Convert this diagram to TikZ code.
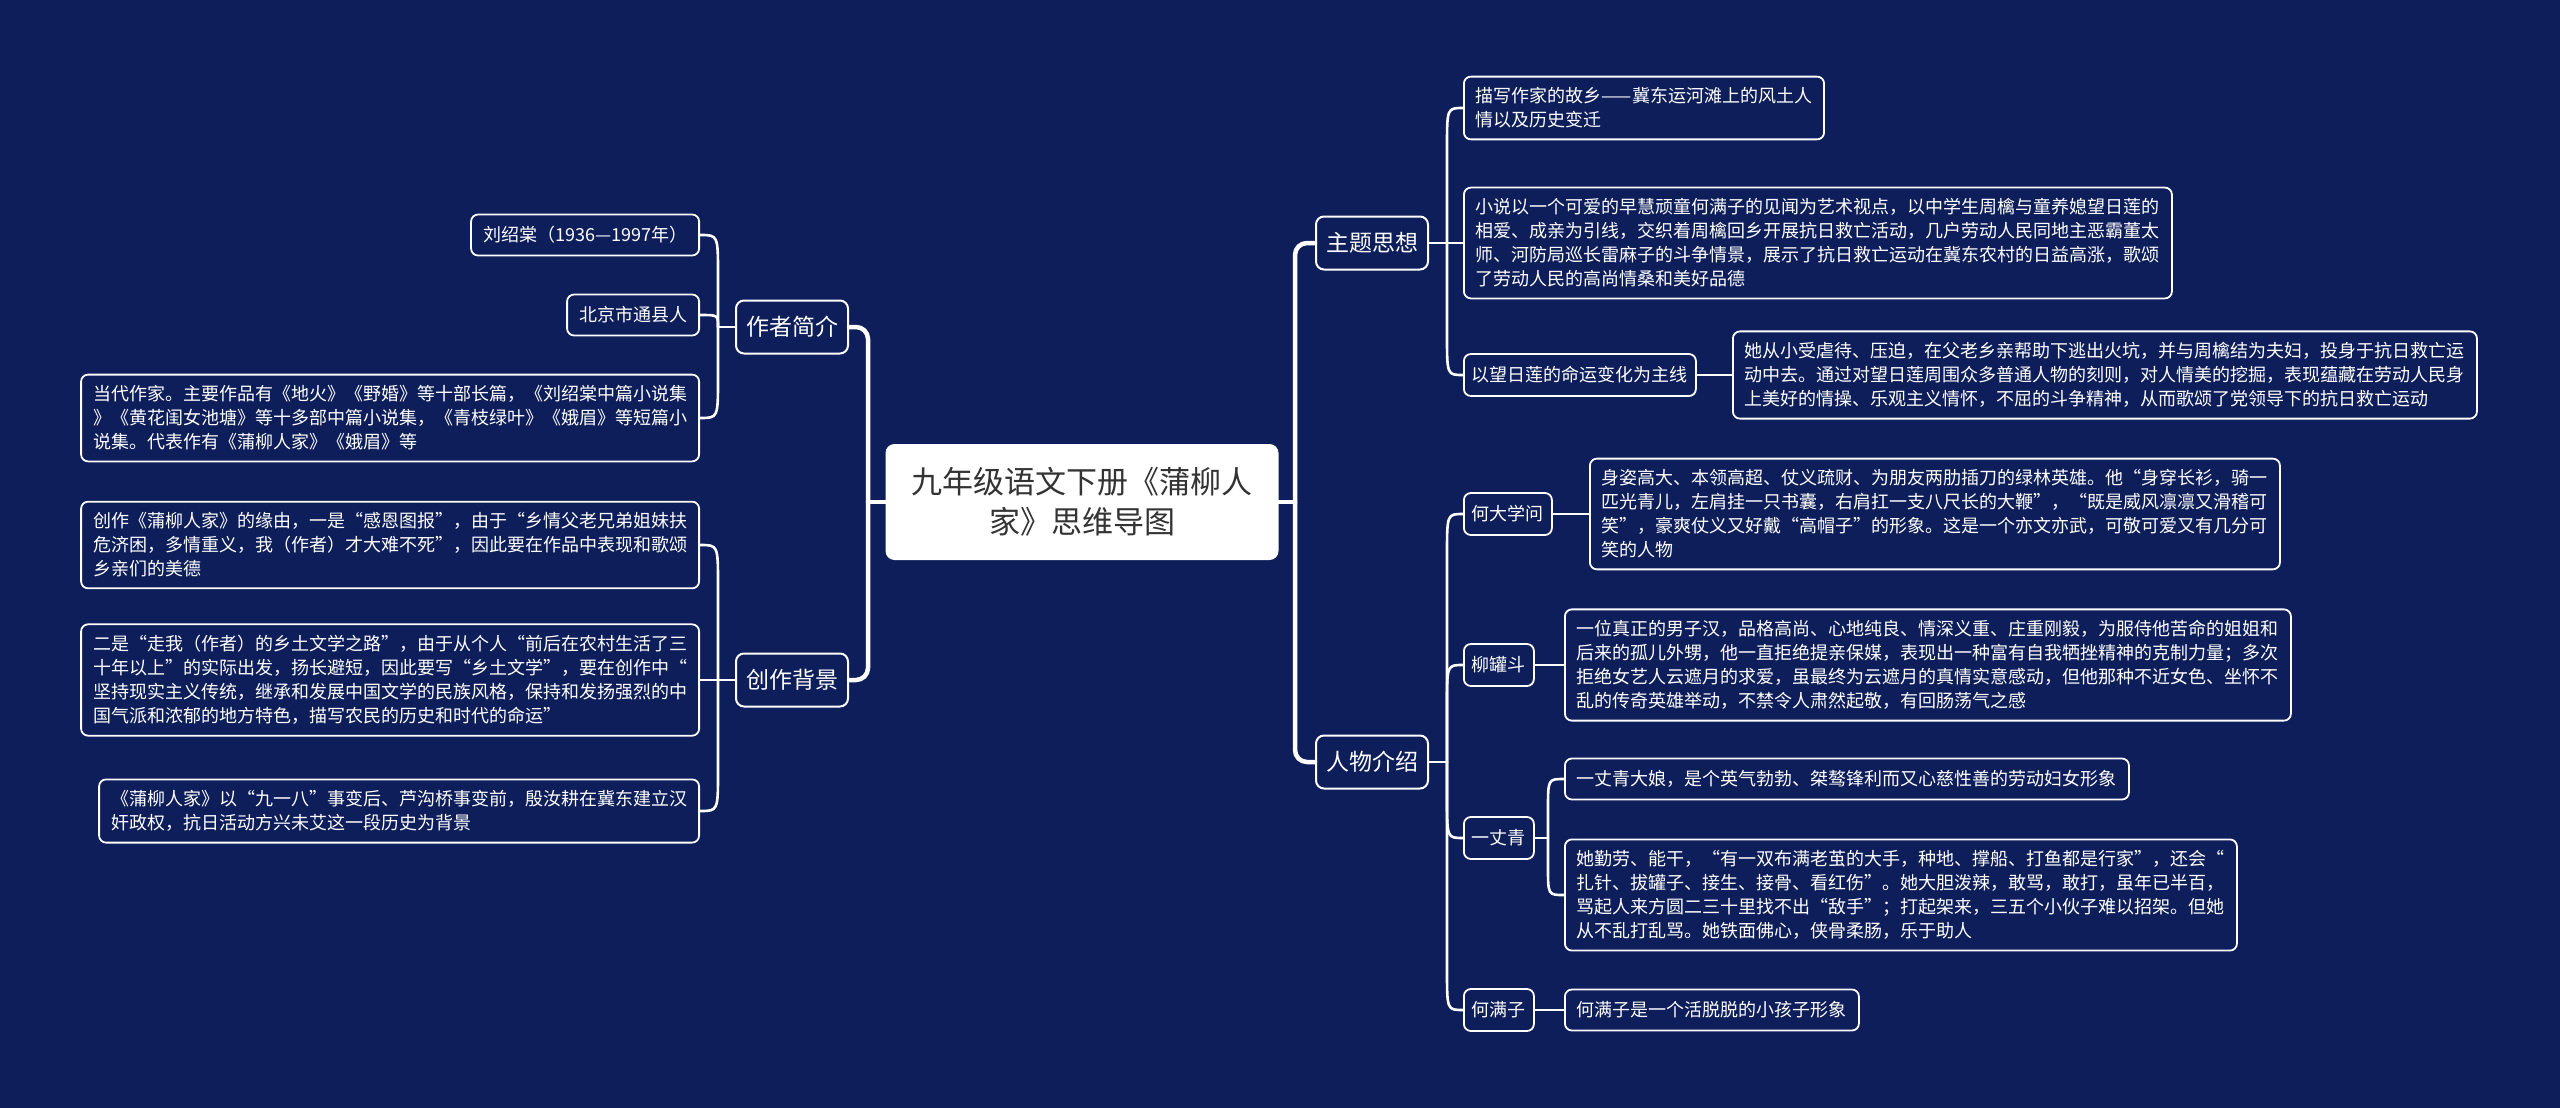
\documentclass[tikz,border=0pt]{standalone}
\usepackage{fontspec}
\setmainfont{Noto Sans CJK SC}
\definecolor{navy}{RGB}{13,30,90}

\begin{document}
\begin{tikzpicture}[x=1pt,y=-1pt,line cap=round,line join=round,
  trunk/.style={white,line width=4.5pt},
  branch/.style={white,line width=2.6pt},
  rootbox/.style={fill=white,rounded corners=9pt,text=black!80,font=\fontsize{31}{40}\selectfont,align=center,text width=363pt,minimum height=116pt,inner xsep=15pt},
  topicbox/.style={draw=white,line width=2pt,fill=navy,rounded corners=8pt,text=white,font=\fontsize{23}{28}\selectfont,inner xsep=10pt,minimum height=53pt},
  subbox/.style={draw=white,line width=1.8pt,fill=navy,rounded corners=7pt,text=white,font=\fontsize{18}{24}\selectfont,inner xsep=8pt,minimum height=42pt},
  leafbox/.style={draw=white,line width=1.8pt,fill=navy,rounded corners=7pt,text=white,font=\fontsize{18}{24}\selectfont,align=left,inner xsep=12pt,inner ysep=11pt,minimum height=41pt}]
\fill[navy] (0,0) rectangle (2560,1108);
\useasboundingbox (0,0) rectangle (2560,1108);

\node[rootbox] (root) at (1082,502) {九年级语文下册《蒲柳人\\家》思维导图};
\node[topicbox] (author) at (792,327) {作者简介};
\node[topicbox] (backg) at (792,680) {创作背景};
\node[topicbox] (theme) at (1372,243) {主题思想};
\node[topicbox] (people) at (1372,762) {人物介绍};

\node[leafbox,anchor=east] (a1) at (700,235) {刘绍棠（1936—1997年）};
\node[leafbox,anchor=east] (a2) at (700,315) {北京市通县人};
\node[leafbox,anchor=east] (a3) at (700,418) {当代作家。主要作品有《地火》《野婚》等十部长篇，《刘绍棠中篇小说集\\》《黄花闺女池塘》等十多部中篇小说集，《青枝绿叶》《娥眉》等短篇小\\说集。代表作有《蒲柳人家》《娥眉》等};
\node[leafbox,anchor=east] (b1) at (700,545) {创作《蒲柳人家》的缘由，一是“感恩图报”，由于“乡情父老兄弟姐妹扶\\危济困，多情重义，我（作者）才大难不死”，因此要在作品中表现和歌颂\\乡亲们的美德};
\node[leafbox,anchor=east] (b2) at (700,680) {二是“走我（作者）的乡土文学之路”，由于从个人“前后在农村生活了三\\十年以上”的实际出发，扬长避短，因此要写“乡土文学”，要在创作中“\\坚持现实主义传统，继承和发展中国文学的民族风格，保持和发扬强烈的中\\国气派和浓郁的地方特色，描写农民的历史和时代的命运”};
\node[leafbox,anchor=east] (b3) at (700,811) {《蒲柳人家》以“九一八”事变后、芦沟桥事变前，殷汝耕在冀东建立汉\\奸政权，抗日活动方兴未艾这一段历史为背景};

\node[leafbox,anchor=west] (t1) at (1463,108) {描写作家的故乡——冀东运河滩上的风土人\\情以及历史变迁};
\node[leafbox,anchor=west] (t2) at (1463,243) {小说以一个可爱的早慧顽童何满子的见闻为艺术视点，以中学生周檎与童养媳望日莲的\\相爱、成亲为引线，交织着周檎回乡开展抗日救亡活动，几户劳动人民同地主恶霸董太\\师、河防局巡长雷麻子的斗争情景，展示了抗日救亡运动在冀东农村的日益高涨，歌颂\\了劳动人民的高尚情桑和美好品德};
\node[subbox,anchor=west] (t3) at (1463,375) {以望日莲的命运变化为主线};
\node[leafbox,anchor=west] (t3a) at (1732,375) {她从小受虐待、压迫，在父老乡亲帮助下逃出火坑，并与周檎结为夫妇，投身于抗日救亡运\\动中去。通过对望日莲周围众多普通人物的刻则，对人情美的挖掘，表现蕴藏在劳动人民身\\上美好的情操、乐观主义情怀，不屈的斗争精神，从而歌颂了党领导下的抗日救亡运动};

\node[subbox,anchor=west] (p1) at (1463,514) {何大学问};
\node[leafbox,anchor=west] (p1a) at (1589,514) {身姿高大、本领高超、仗义疏财、为朋友两肋插刀的绿林英雄。他“身穿长衫，骑一\\匹光青儿，左肩挂一只书囊，右肩扛一支八尺长的大鞭”，“既是威风凛凛又滑稽可\\笑”，豪爽仗义又好戴“高帽子”的形象。这是一个亦文亦武，可敬可爱又有几分可\\笑的人物};
\node[subbox,anchor=west] (p2) at (1463,665) {柳罐斗};
\node[leafbox,anchor=west] (p2a) at (1564,665) {一位真正的男子汉，品格高尚、心地纯良、情深义重、庄重刚毅，为服侍他苦命的姐姐和\\后来的孤儿外甥，他一直拒绝提亲保媒，表现出一种富有自我牺挫精神的克制力量；多次\\拒绝女艺人云遮月的求爱，虽最终为云遮月的真情实意感动，但他那种不近女色、坐怀不\\乱的传奇英雄举动，不禁令人肃然起敬，有回肠荡气之感};
\node[subbox,anchor=west] (p3) at (1463,838) {一丈青};
\node[leafbox,anchor=west] (p3a) at (1564,779) {一丈青大娘，是个英气勃勃、桀骜锋利而又心慈性善的劳动妇女形象};
\node[leafbox,anchor=west] (p3b) at (1564,895) {她勤劳、能干，“有一双布满老茧的大手，种地、撑船、打鱼都是行家”，还会“\\扎针、拔罐子、接生、接骨、看红伤”。她大胆泼辣，敢骂，敢打，虽年已半百，\\骂起人来方圆二三十里找不出“敌手”；打起架来，三五个小伙子难以招架。但她\\从不乱打乱骂。她铁面佛心，侠骨柔肠，乐于助人};
\node[subbox,anchor=west] (p4) at (1463,1010) {何满子};
\node[leafbox,anchor=west] (p4a) at (1564,1010) {何满子是一个活脱脱的小孩子形象};

\coordinate (tl) at (868,502);
\coordinate (tr) at (1295,502);
\draw[trunk] (root.west) -- (tl);
\draw[trunk,rounded corners=12pt] (tl) |- (author.east);
\draw[trunk,rounded corners=12pt] (tl) |- (backg.east);
\draw[trunk] (root.east) -- (tr);
\draw[trunk,rounded corners=12pt] (tr) |- (theme.west);
\draw[trunk,rounded corners=12pt] (tr) |- (people.west);

\coordinate (ba) at (718,327);
\draw[branch] (author.west) -- (ba);
\draw[branch] (ba) -- (718,275) .. controls (718,235) .. (a1.east);
\draw[branch] (ba) .. controls (718,315) .. (a2.east);
\draw[branch] (ba) -- (718,378) .. controls (718,418) .. (a3.east);

\coordinate (bb) at (718,680);
\draw[branch] (backg.west) -- (bb);
\draw[branch] (bb) -- (718,585) .. controls (718,545) .. (b1.east);
\draw[branch] (bb) -- (b2.east);
\draw[branch] (bb) -- (718,771) .. controls (718,811) .. (b3.east);

\coordinate (bt) at (1447,243);
\draw[branch] (theme.east) -- (bt);
\draw[branch] (bt) -- (1447,148) .. controls (1447,108) .. (t1.west);
\draw[branch] (bt) -- (t2.west);
\draw[branch] (bt) -- (1447,335) .. controls (1447,375) .. (t3.west);
\draw[branch] (t3.east) -- (t3a.west);

\coordinate (bp) at (1447,762);
\draw[branch] (people.east) -- (bp);
\draw[branch] (bp) -- (1447,555) .. controls (1447,514) .. (p1.west);
\draw[branch] (bp) -- (1447,705) .. controls (1447,665) .. (p2.west);
\draw[branch] (bp) -- (1447,798) .. controls (1447,838) .. (p3.west);
\draw[branch] (bp) -- (1447,970) .. controls (1447,1010) .. (p4.west);
\draw[branch] (p1.east) -- (p1a.west);
\draw[branch] (p2.east) -- (p2a.west);
\coordinate (bq) at (1548,838);
\draw[branch] (p3.east) -- (bq);
\draw[branch] (bq) -- (1548,809) .. controls (1548,779) .. (p3a.west);
\draw[branch] (bq) -- (1548,867) .. controls (1548,895) .. (p3b.west);
\draw[branch] (p4.east) -- (p4a.west);
\end{tikzpicture}
\end{document}
